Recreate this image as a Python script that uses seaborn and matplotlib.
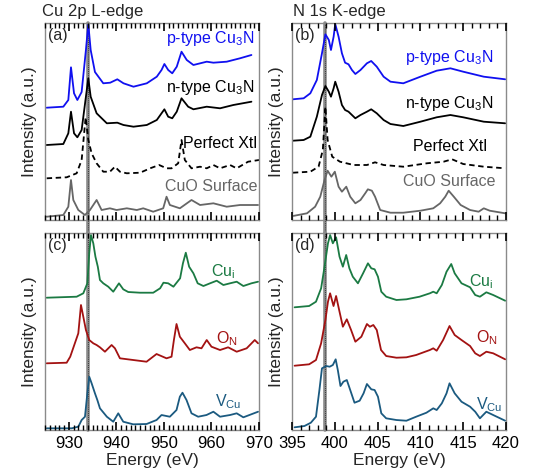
import numpy as np
import pandas as pd
import matplotlib.pyplot as plt
import seaborn as sns
from matplotlib.ticker import MultipleLocator

sns.set_style("ticks")
plt.rcParams['font.family'] = ['Liberation Sans', 'DejaVu Sans']
plt.rcParams['mathtext.default'] = 'regular'
plt.rcParams['axes.axisbelow'] = False

# ---- Cu 2p L-edge, experiment (a) ----
cu_e_p = [925.35, 928.85, 929.9, 930.46, 931.1, 931.8, 932.7, 933.6, 934.1, 934.6, 935.5, 937.25,
          938.7, 940.2, 941.5, 943.6, 946.4, 948.5, 949.5, 950.1, 950.9, 951.75, 952.7, 953.7,
          954.8, 956.2, 959.0, 960.4, 963.2, 966.0, 968.4]
cu_p = [112.3, 113.3, 120, 152.7, 126.7, 120, 128, 170, 196, 170, 148, 136.7,
        137.3, 140.7, 136.7, 133.3, 136.7, 143.3, 150, 156, 150, 146.7, 153.3, 168.3,
        160, 155, 158.3, 157.3, 158.3, 161.7, 165]
cu_e_n = [925.35, 928.85, 929.9, 930.46, 931.1, 931.8, 932.7, 933.6, 934.1, 934.6, 935.85, 938.0,
          940.2, 941.5, 943.6, 946.4, 948.5, 950.1, 950.9, 951.75, 952.7, 953.7, 955.1, 956.2,
          959.0, 961.8, 964.6, 968.4]
cu_n = [75, 76, 86.7, 108.3, 86.7, 82.7, 90, 123.3, 141.7, 123.3, 106.7, 96.7,
        97.3, 95, 93.3, 95, 100, 110.7, 103.3, 101.7, 108.3, 121.7, 113.3, 110.7,
        113.3, 111.7, 115, 118.3]
cu_e_xtl = [925.35, 929.55, 931.65, 932.7, 933.54, 934.1, 934.8, 935.85, 937.25, 938.65, 939.7,
            940.75, 942.2, 945.0, 947.1, 949.0, 950.55, 951.6, 953.0, 953.7, 954.4, 955.8, 957.6,
            959.0, 960.4, 961.8, 963.9, 965.3, 967.7, 970.0]
cu_xtl = [41.7, 42.7, 46.7, 60, 102.7, 80, 66.7, 56.7, 48.3, 48.3, 53.3,
          48.3, 46.7, 47.3, 51.7, 55, 51.7, 51.7, 56.7, 80, 60, 51.7, 53.3,
          51.7, 55, 51.7, 55, 51.7, 58.3, 60]
cu_e_cuo = [925.35, 928.85, 929.9, 930.46, 930.95, 932.0, 933.4, 934.45, 935.85, 936.9, 938.65,
            940.05, 942.2, 944.3, 945.65, 947.75, 949.85, 950.55, 951.25, 953.35, 955.8, 957.6,
            960.4, 963.2, 966.0, 969.8]
cu_cuo = [3.3, 5, 13.3, 40, 20, 10, 5, 10, 20, 10, 11.7,
          10, 11.7, 10, 11.7, 8.3, 11.7, 23.3, 15, 11.7, 20, 15,
          16.7, 13.3, 15, 15]

# ---- N 1s K-edge, experiment (b) ----
n_e_p = [395.1, 396.36, 397.14, 397.9, 398.5, 398.9, 399.3, 399.55, 399.86, 400.05, 400.44, 400.83,
         401.2, 401.6, 402.0, 402.4, 403.0, 403.75, 404.25, 404.9, 405.7, 406.5, 408.0, 410.0,
         411.9, 413.5, 415.0, 417.4, 419.9]
n_p = [120.7, 121.7, 126.7, 140, 166.7, 185.7, 180, 170, 183.3, 196, 183.3, 166.7,
       157.3, 155.7, 150, 146, 150, 156.7, 159, 153.3, 143.3, 138.3, 136.7, 143.3,
       149.3, 151.7, 148.3, 143.3, 140.7]
n_n = [79.3, 80, 83.3, 103.3, 125, 134, 128.3, 123.3, 131.7, 138.3, 128.3, 115,
       110, 108.3, 105, 101.7, 105, 108.3, 110.7, 106.7, 100, 96, 94, 98.3,
       102.7, 105, 102.7, 98.3, 96.7]
n_e_xtl = [395.1, 397.14, 398.1, 398.6, 398.9, 399.16, 399.7, 400.6, 402.2, 403.75, 404.7, 405.7,
           408.0, 410.75, 412.7, 413.7, 415.0, 417.4, 419.9]
n_xtl = [47.3, 48.3, 53.3, 70, 113.3, 80, 63.3, 58.3, 55, 55, 57.7, 55,
         53.3, 56.7, 58.3, 60.7, 56, 53.3, 51.7]
n_e_cuo = [395.1, 396.75, 397.7, 398.3, 398.8, 399.16, 399.6, 400.0, 400.44, 400.83, 401.34, 401.8,
           402.4, 403.0, 403.55, 403.86, 404.33, 404.7, 405.3, 406.5, 408.0, 410.0, 411.5, 412.3,
           412.9, 413.3, 413.9, 414.7, 415.8, 416.8, 417.4, 418.1, 419.9]
n_cuo = [4, 6.7, 13.3, 23.3, 40, 49.3, 43.3, 48.3, 33.3, 28.3, 33.3, 23.3,
         16.7, 20, 26.7, 30.7, 29.3, 23.3, 10, 7.3, 7.3, 9.3, 11.7, 16.7,
         23.3, 29.3, 23.3, 15, 10, 8.3, 11.7, 9.3, 6.7]

# ---- Cu 2p L-edge, defects (c) ----
cu_e_cui = [925.35, 931.65, 933.05, 933.9, 934.3, 934.66, 935.15, 935.6, 936.1, 936.55, 937.25, 938.3,
            939.35, 940.55, 941.45, 942.5, 945.0, 947.75, 949.2, 949.9, 950.9, 952.0, 953.4, 954.0,
            954.6, 955.3, 956.2, 957.1, 958.3, 959.7, 961.1, 962.5, 963.9, 965.3, 966.7, 968.4, 969.8]
cu_cui = [132.3, 133.3, 136.7, 146.7, 176.7, 195, 186.7, 173.3, 163.3, 150, 146.7, 143.3,
          138.3, 146.7, 140.7, 138, 137.3, 137.3, 141.7, 147.3, 146.7, 143.3, 151.7, 166.7,
          177.3, 163.3, 156.7, 146.7, 144, 146.7, 149.3, 145, 146.7, 148.3, 144, 146.7, 148.3]
cu_e_on = [925.35, 929.55, 930.3, 932.0, 932.56, 933.05, 933.6, 934.3, 935.15, 935.85, 936.55, 937.6,
           939.0, 939.7, 940.75, 943.55, 946.35, 948.45, 950.55, 951.6, 952.1, 952.65, 953.35, 954.4,
           955.45, 956.85, 957.9, 959.0, 960.0, 961.8, 963.5, 965.3, 967.4, 969.1, 969.8]
cu_on = [66.7, 67.3, 73.3, 96.7, 125, 113.3, 100, 90, 86.7, 85, 82.7, 78.3,
         85, 81.7, 71.7, 70, 68.3, 76, 71.7, 73.3, 90, 106, 93.3, 86.7,
         80, 82.7, 81.7, 90, 83.3, 80, 82.7, 78.3, 81.7, 90, 86.7]
cu_e_vcu = [925.35, 930.6, 932.0, 932.7, 933.4, 933.9, 934.3, 934.8, 935.5, 936.0, 936.55, 938.0,
            939.35, 940.4, 941.45, 943.55, 946.35, 948.45, 949.5, 951.25, 952.65, 953.35, 953.9, 954.75,
            955.8, 957.2, 958.95, 960.4, 961.8, 963.9, 965.3, 966.7, 969.8]
cu_vcu = [1.7, 1.7, 3.3, 10, 13.3, 36.7, 53.3, 46.7, 36.7, 30, 21.7, 13.3,
          8.3, 16.7, 8.3, 5.7, 6, 10, 15, 13.3, 20, 33.3, 37.3, 30,
          16.7, 13.3, 15, 18.3, 13.3, 15, 16.7, 12.7, 18.3]

# ---- N 1s K-edge, defects (d) ----
n_e_cui = [395.3, 397.0, 397.8, 398.4, 398.8, 399.2, 399.45, 399.77, 400.15, 400.55, 400.94, 401.33,
           401.7, 402.1, 402.7, 403.3, 403.87, 404.26, 404.65, 405.04, 405.43, 406.0, 407.2, 408.36,
           409.9, 411.1, 411.5, 411.9, 412.5, 413.05, 413.6, 414.0, 414.8, 415.8, 416.4, 416.95,
           417.7, 418.5, 419.9]
n_cui = [122.7, 124, 128.3, 141.7, 163.3, 186.7, 195, 186.7, 192.7, 173.3, 163.3, 175,
         161.7, 153.3, 146.7, 156.7, 166.7, 161.7, 160.7, 153.3, 138.3, 133.3, 130, 130.7,
         133.3, 136.7, 138.3, 136.7, 145, 158.3, 166, 156.7, 146.7, 142.7, 135, 133.3,
         137.7, 135, 129.3]
n_e_on = [395.3, 397.0, 397.8, 398.4, 398.9, 399.2, 399.45, 399.85, 400.15, 400.55, 400.94, 401.4,
          401.9, 402.4, 403.1, 403.75, 404.1, 404.5, 404.9, 405.4, 406.0, 407.2, 408.36, 409.5,
          411.1, 411.5, 411.9, 412.65, 413.4, 414.0, 414.8, 415.8, 416.4, 416.95, 417.7, 418.5, 419.9]
n_on = [64.3, 65.7, 70, 86.7, 110, 128.3, 136.7, 124, 134, 118.3, 103.3, 110.7,
        100, 88.3, 93.3, 106, 103.3, 105, 100, 80, 74, 72.3, 72.7, 75,
        80, 81.7, 79.3, 90, 104, 95, 90, 84, 76.7, 74, 78.3, 76.7, 70.7]
n_e_vcu = [395.3, 396.45, 397.2, 397.8, 398.2, 398.5, 399.0, 399.4, 399.77, 400.1, 400.35, 400.66,
           401.0, 401.4, 401.8, 402.3, 402.9, 403.36, 403.75, 404.26, 404.65, 405.04, 405.43, 406.0,
           407.2, 408.36, 409.5, 410.7, 411.5, 411.9, 412.5, 413.05, 413.4, 414.0, 414.8, 415.8,
           416.4, 416.95, 417.7, 418.5, 419.9]
n_vcu = [2.7, 4, 7.3, 13.3, 40, 61.7, 64, 63.3, 65, 70.7, 60, 44,
         48.3, 50, 40, 27.3, 29.3, 36.7, 46, 40.7, 40, 33.3, 16.7, 11.7,
         10, 9.3, 13.3, 17.3, 21.7, 20, 26.7, 36.7, 46.7, 36.7, 28.3, 23.3,
         18.3, 11.7, 18.3, 15, 9.3]

edge_cu = 934.0
edge_n = 398.85

BLUE = "#1010f0"
BLACK = "black"
GRAY = "#666666"
GREEN = "#1b7a43"
RED = "#a31212"
TEAL = "#1b5a80"

fig = plt.figure(figsize=(5.45, 4.76), dpi=100)
w, h = 0.3927, 0.4139
ax_a = fig.add_axes([0.0826, 0.5378, w, h])
ax_b = fig.add_axes([0.5358, 0.5378, w, h])
ax_c = fig.add_axes([0.0826, 0.0966, w, h])
ax_d = fig.add_axes([0.5358, 0.0966, w, h])


def curve(ax, x, y, color, ls="-"):
    sns.lineplot(x=x, y=y, ax=ax, color=color, linewidth=1.3, linestyle=ls, sort=False)


DASH = (0, (3, 2))
curve(ax_a, cu_e_p, cu_p, BLUE)
curve(ax_a, cu_e_n, cu_n, BLACK)
curve(ax_a, cu_e_xtl, cu_xtl, BLACK, DASH)
curve(ax_a, cu_e_cuo, cu_cuo, GRAY)

curve(ax_b, n_e_p, n_p, BLUE)
curve(ax_b, n_e_p, n_n, BLACK)
curve(ax_b, n_e_xtl, n_xtl, BLACK, DASH)
curve(ax_b, n_e_cuo, n_cuo, GRAY)

curve(ax_c, cu_e_cui, cu_cui, GREEN)
curve(ax_c, cu_e_on, cu_on, RED)
curve(ax_c, cu_e_vcu, cu_vcu, TEAL)

curve(ax_d, n_e_cui, n_cui, GREEN)
curve(ax_d, n_e_on, n_on, RED)
curve(ax_d, n_e_vcu, n_vcu, TEAL)

for ax in (ax_a, ax_c):
    ax.set_xlim(925, 970)
    ax.xaxis.set_major_locator(MultipleLocator(10))
    ax.xaxis.set_minor_locator(MultipleLocator(1))
for ax in (ax_b, ax_d):
    ax.set_xlim(395, 420)
    ax.xaxis.set_major_locator(MultipleLocator(5))
    ax.xaxis.set_minor_locator(MultipleLocator(1))

for ax, top in ((ax_a, True), (ax_b, True), (ax_c, False), (ax_d, False)):
    edge = edge_cu if ax in (ax_a, ax_c) else edge_n
    lo = -0.07 if top else 0
    ax.set_axisbelow(False)
    ax.axvline(edge, ymin=lo, ymax=1, color="#8a8a8a", lw=2.6, clip_on=False, zorder=0.5)
    ax.axvline(edge, ymin=lo, ymax=1, color="#222222", lw=0.6, ls=(0, (1, 1.5)), clip_on=False, zorder=0.6)
    ax.set_ylim(0, 197)
    ax.set_yticks([])
    ax.set_ylabel("Intensity (a.u.)", fontsize=12.5, labelpad=6)
    ax.tick_params(axis="x", which="both", direction="in", top=True, bottom=True,
                   labelsize=12, pad=4, colors="black")
    ax.tick_params(axis="x", which="major", length=5.5, width=1.2)
    ax.tick_params(axis="x", which="minor", length=3.5, width=1.0)
    for s in ax.spines.values():
        s.set_color("#8a8a8a")
        s.set_linewidth(1.0)

for ax in (ax_a, ax_b):
    ax.tick_params(axis="x", labelbottom=False)
    ax.set_xlabel("")
for ax in (ax_c, ax_d):
    ax.set_xlabel("Energy (eV)", fontsize=12.5, labelpad=2)

fs = 11.5
ax_a.text(-0.015, 1.02, "Cu 2p L-edge", transform=ax_a.transAxes, fontsize=12, va="bottom", ha="left")
ax_b.text(0.005, 1.02, "N 1s K-edge", transform=ax_b.transAxes, fontsize=12, va="bottom", ha="left")

for ax, lab in ((ax_a, "(a)"), (ax_b, "(b)"), (ax_c, "(c)"), (ax_d, "(d)")):
    ax.text(0.015, 0.975, lab, transform=ax.transAxes, fontsize=11.5, va="top", ha="left")

ax_a.text(0.977, 0.919, "p-type Cu$_3$N", color=BLUE, transform=ax_a.transAxes, fontsize=fs, ha="right", va="center")
ax_a.text(0.977, 0.675, "n-type Cu$_3$N", color=BLACK, transform=ax_a.transAxes, fontsize=fs, ha="right", va="center")
ax_a.text(0.99, 0.386, "Perfect Xtl", color=BLACK, transform=ax_a.transAxes, fontsize=fs, ha="right", va="center")
ax_a.text(0.995, 0.168, "CuO Surface", color=GRAY, transform=ax_a.transAxes, fontsize=fs, ha="right", va="center")

ax_b.text(0.939, 0.827, "p-type Cu$_3$N", color=BLUE, transform=ax_b.transAxes, fontsize=fs, ha="right", va="center")
ax_b.text(0.939, 0.589, "n-type Cu$_3$N", color=BLACK, transform=ax_b.transAxes, fontsize=fs, ha="right", va="center")
ax_b.text(0.911, 0.371, "Perfect Xtl", color=BLACK, transform=ax_b.transAxes, fontsize=fs, ha="right", va="center")
ax_b.text(0.953, 0.193, "CuO Surface", color=GRAY, transform=ax_b.transAxes, fontsize=fs, ha="right", va="center")

ax_c.text(0.888, 0.804, "Cu$_i$", color=GREEN, transform=ax_c.transAxes, fontsize=fs, ha="right", va="center")
ax_c.text(0.902, 0.462, "O$_N$", color=RED, transform=ax_c.transAxes, fontsize=fs, ha="right", va="center")
ax_c.text(0.92, 0.142, "V$_{Cu}$", color=TEAL, transform=ax_c.transAxes, fontsize=fs, ha="right", va="center")

ax_d.text(0.939, 0.751, "Cu$_i$", color=GREEN, transform=ax_d.transAxes, fontsize=fs, ha="right", va="center")
ax_d.text(0.963, 0.467, "O$_N$", color=RED, transform=ax_d.transAxes, fontsize=fs, ha="right", va="center")
ax_d.text(0.981, 0.127, "V$_{Cu}$", color=TEAL, transform=ax_d.transAxes, fontsize=fs, ha="right", va="center")

fig.savefig("out.png", dpi=100)
